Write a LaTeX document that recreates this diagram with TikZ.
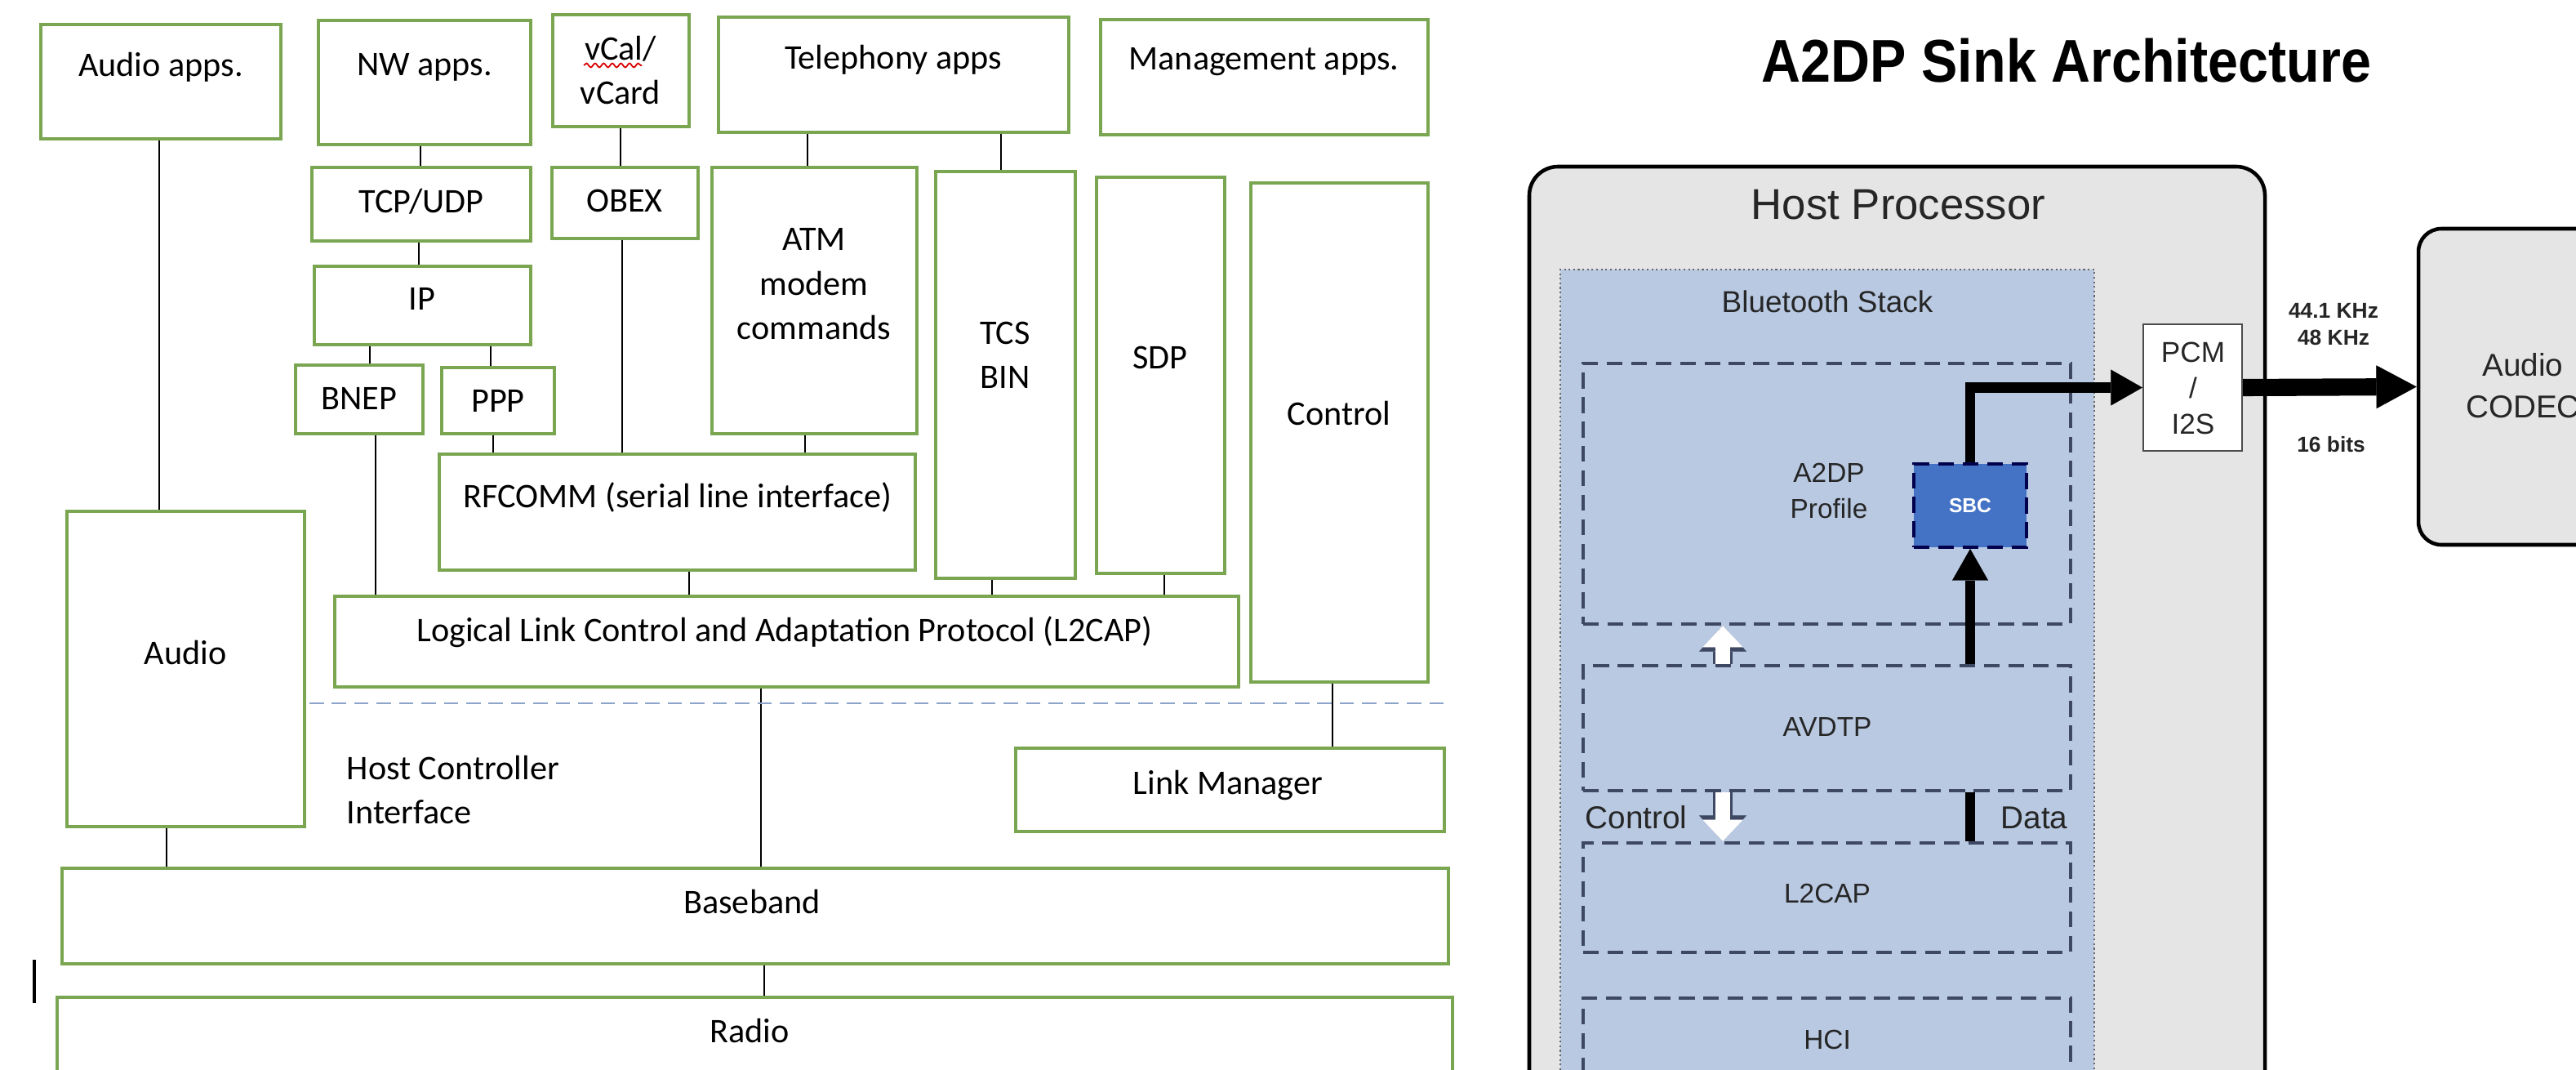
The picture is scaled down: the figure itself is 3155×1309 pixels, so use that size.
\documentclass[tikz,border=0pt]{standalone}
\usepackage{fontspec}
\setmainfont{Carlito}
\newfontfamily\arialfont{Liberation Sans}
\usetikzlibrary{arrows.meta,positioning,decorations.pathmorphing}

\definecolor{boxgreen}{RGB}{122,166,82}
\definecolor{hcidash}{RGB}{140,165,200}
\definecolor{hostgray}{RGB}{229,229,229}
\definecolor{stackblue}{RGB}{185,201,226}
\definecolor{layerline}{RGB}{62,72,98}
\definecolor{sbcblue}{RGB}{68,114,196}

\tikzset{
  blk/.style={draw=boxgreen, line width=0.9pt, fill=white, inner sep=0pt},
  lbl/.style={font=\fontsize{12}{15.5}\selectfont, align=center, inner sep=0pt},
  wire/.style={line width=0.7pt},
  hcisep/.style={draw=hcidash, line width=0.7pt, dash pattern=on 5pt off 2.8pt},
  hostbox/.style={draw=black, line width=1.3pt, fill=hostgray, rounded corners=10pt, inner sep=0pt},
  codecbox/.style={hostbox, rounded corners=8pt},
  stackbox/.style={draw=black!60, line width=0.6pt, densely dotted, fill=stackblue, inner sep=0pt},
  layerbox/.style={draw=layerline, line width=1.1pt, dash pattern=on 5.5pt off 3pt, inner sep=0pt},
  sbcbox/.style={layerbox, draw=black!70!blue, fill=sbcblue},
  pcmbox/.style={draw=black!70, line width=0.6pt, fill=white, inner sep=0pt},
  rlbl/.style={font=\arialfont\fontsize{9.5}{11.5}\selectfont, align=center, inner sep=0pt, text=black!85},
  datapath/.style={line width=3.5pt, -{Triangle[length=11pt,width=12.5pt,line width=0.1pt]}},
  busarrow/.style={line width=6pt, -{Triangle[length=14pt,width=15pt,line width=0.1pt]}},
  ctlarrow/.style={draw=white, line width=5pt, -{Triangle[length=7.5pt,width=14pt,line width=0.1pt]},
    preaction={draw=layerline, line width=6.6pt, -{Triangle[length=9pt,width=16.5pt,line width=0.1pt]}}}
}

% box from its corners (left, top, right, bottom)
\newcommand{\layerat}[6][]{%
  \node[#1, minimum width={(#5-#3)*0.01cm}, minimum height={(#6-#4)*0.01cm}] (#2) at ({(#3+#5)/2},{(#4+#6)/2}) {};
}
% vertical wire at x from one box down to the next
\newcommand{\linkwire}[3]{%
  \coordinate (w) at (#1,0);
  \draw[wire] (#2.south -| w) -- (#3.north -| w);
}

\begin{document}
\begin{tikzpicture}[x=0.01cm, y=-0.01cm]
\useasboundingbox (0,0) rectangle (3155,1309);
\clip (0,0) rectangle (3155,1309);

% protocol stack
\layerat[blk]{audioapps}{50}{30}{344}{170}
\layerat[blk]{nwapps}{390}{25}{650}{177}
\layerat[blk]{vcal}{677}{18}{844}{155}
\layerat[blk]{tele}{880}{21}{1309}{162}
\layerat[blk]{mgmt}{1348}{24}{1749}{165}
\layerat[blk]{tcp}{382}{205}{650}{295}
\layerat[blk]{obex}{676}{205}{855}{292}
\layerat[blk]{atm}{872}{205}{1123}{531}
\layerat[blk]{tcs}{1146}{210}{1317}{708}
\layerat[blk]{sdp}{1343}{217}{1500}{702}
\layerat[blk]{ctrl}{1532}{224}{1749}{835}
\layerat[blk]{ip}{385}{326}{650}{422}
\layerat[blk]{bnep}{362}{447}{518}{531}
\layerat[blk]{ppp}{541}{450}{679}{531}
\layerat[blk]{rfcomm}{538}{556}{1121}{698}
\layerat[blk]{audio}{82}{626}{373}{1012}
\layerat[blk]{l2cap}{410}{730}{1517}{841}
\layerat[blk]{lm}{1244}{916}{1769}{1018}
\layerat[blk]{baseband}{76}{1063}{1774}{1180}
\layerat[blk]{radio}{70}{1221}{1779}{1345}

\node[lbl] (audioapps-t) at (197,82) {Audio apps.};
\node[lbl] (nwapps-t) at (520,82) {NW apps.};
\node[lbl] (vcal-t) at (760,86) {vCal/\\vCard};
\node[lbl] (tele-t) at (1094,73) {Telephony apps};
\node[lbl] (mgmt-t) at (1548,76) {Management apps.};
\node[lbl] (tcp-t) at (516,247) {TCP/UDP};
\node[lbl] (obex-t) at (765,246) {OBEX};
\node[lbl] (atm-t) at (997,348) {ATM\\modem\\commands};
\node[lbl] (tcs-t) at (1231,435) {TCS\\BIN};
\node[lbl] (sdp-t) at (1421,438) {SDP};
\node[lbl] (ctrl-t) at (1640,506) {Control};
\node[lbl] (ip-t) at (517,366) {IP};
\node[lbl] (bnep-t) at (440,488) {BNEP};
\node[lbl] (ppp-t) at (610,491) {PPP};
\node[lbl] (rfcomm-t) at (830,609) {RFCOMM (serial line interface)};
\node[lbl] (audio-t) at (227,799) {Audio};
\node[lbl] (l2cap-t) at (961,774) {Logical Link Control and Adaptation Protocol (L2CAP)};
\node[lbl] (lm-t) at (1504,961) {Link Manager};
\node[lbl] (baseband-t) at (921,1104) {Baseband};
\node[lbl] (radio-t) at (918,1262) {Radio};
\node[lbl, anchor=west, align=left] (hcif-t) at (424,967) {Host Controller\\Interface};
\draw[red!85!black, line width=0.5pt, decorate, decoration={snake, amplitude=0.7pt, segment length=3pt}] (715,80) -- (786,80);

\linkwire{195}{audioapps}{audio}
\linkwire{515}{nwapps}{tcp}
\linkwire{513}{tcp}{ip}
\linkwire{453}{ip}{bnep}
\linkwire{601}{ip}{ppp}
\linkwire{460}{bnep}{l2cap}
\linkwire{604}{ppp}{rfcomm}
\linkwire{760}{vcal}{obex}
\linkwire{762}{obex}{rfcomm}
\linkwire{989}{tele}{atm}
\linkwire{1226}{tele}{tcs}
\linkwire{986}{atm}{rfcomm}
\linkwire{844}{rfcomm}{l2cap}
\linkwire{1215}{tcs}{l2cap}
\linkwire{1426}{sdp}{l2cap}
\linkwire{932}{l2cap}{baseband}
\linkwire{1632}{ctrl}{lm}
\linkwire{204}{audio}{baseband}
\linkwire{936}{baseband}{radio}
\draw[hcisep] (379,861) -- (1771,861);
\draw[wire, line width=1pt] (42,1175) -- (42,1228);

% A2DP sink
\node[font=\arialfont\bfseries\fontsize{21}{24}\selectfont, xscale=0.9, inner sep=0pt] (title) at (2531,74) {A2DP Sink Architecture};

\layerat[hostbox]{host}{1873}{204}{2774}{1420}
\node[rlbl, font=\arialfont\fontsize{15}{18}\selectfont] (host-t) at (2325,251) {Host Processor};
\layerat[stackbox]{stack}{1911}{330}{2565}{1420}
\node[rlbl, font=\arialfont\fontsize{10.5}{12}\selectfont] (stack-t) at (2238,369) {Bluetooth Stack};
\layerat[layerbox]{a2dp}{1939}{445}{2536}{764}
\layerat[layerbox]{avdtp}{1939}{815}{2536}{968}
\layerat[layerbox]{l2cp}{1939}{1032}{2536}{1166}
\layerat[layerbox]{hci}{1939}{1222}{2536}{1420}
\layerat[sbcbox]{sbc}{2344}{568}{2482}{670}
\layerat[pcmbox]{pcm}{2625}{397}{2746}{552}
\layerat[codecbox]{codec}{2962}{280}{3330}{667}

\node[rlbl, font=\arialfont\fontsize{9.5}{12.5}\selectfont] (a2dp-t) at (2240,601) {A2DP\\Profile};
\node[rlbl, font=\arialfont\bfseries\fontsize{7}{8}\selectfont, text=white] (sbc-t) at (sbc) {SBC};
\node[rlbl] (avdtp-t) at (2238,890) {AVDTP};
\node[rlbl] (l2cp-t) at (2238,1094) {L2CAP};
\node[rlbl] (hci-t) at (2238,1273) {HCI};
\node[rlbl, font=\arialfont\fontsize{11}{13}\selectfont, anchor=west] (control-t) at (1941,1001) {Control};
\node[rlbl, font=\arialfont\fontsize{11}{13}\selectfont, anchor=east] (data-t) at (2533,1001) {Data};
\node[rlbl, font=\arialfont\fontsize{10}{12.5}\selectfont] (pcm-t) at (2686,475) {PCM\\/\\I2S};
\node[rlbl, font=\arialfont\fontsize{11}{14.5}\selectfont] (codec-t) at (3090,472) {Audio\\CODEC};
\node[rlbl, font=\arialfont\bfseries\fontsize{7.5}{9.6}\selectfont] (freq-t) at (2858,397) {44.1 KHz\\48 KHz};
\node[rlbl, font=\arialfont\bfseries\fontsize{7.5}{9.6}\selectfont] (bits-t) at (2855,544) {16 bits};

\draw[datapath] (sbc.north) |- (pcm.west);
\draw[datapath] (avdtp.north -| sbc.south) -- (sbc.south);
\draw[line width=3.5pt] (avdtp.south -| sbc.south) -- (l2cp.north -| sbc.south);
\draw[busarrow] (pcm.east) -- (codec.west);
\coordinate (cx) at (2110,0);
\draw[ctlarrow] (avdtp.north -| cx) -- (a2dp.south -| cx);
\draw[ctlarrow] (avdtp.south -| cx) -- (l2cp.north -| cx);
\end{tikzpicture}
\end{document}
